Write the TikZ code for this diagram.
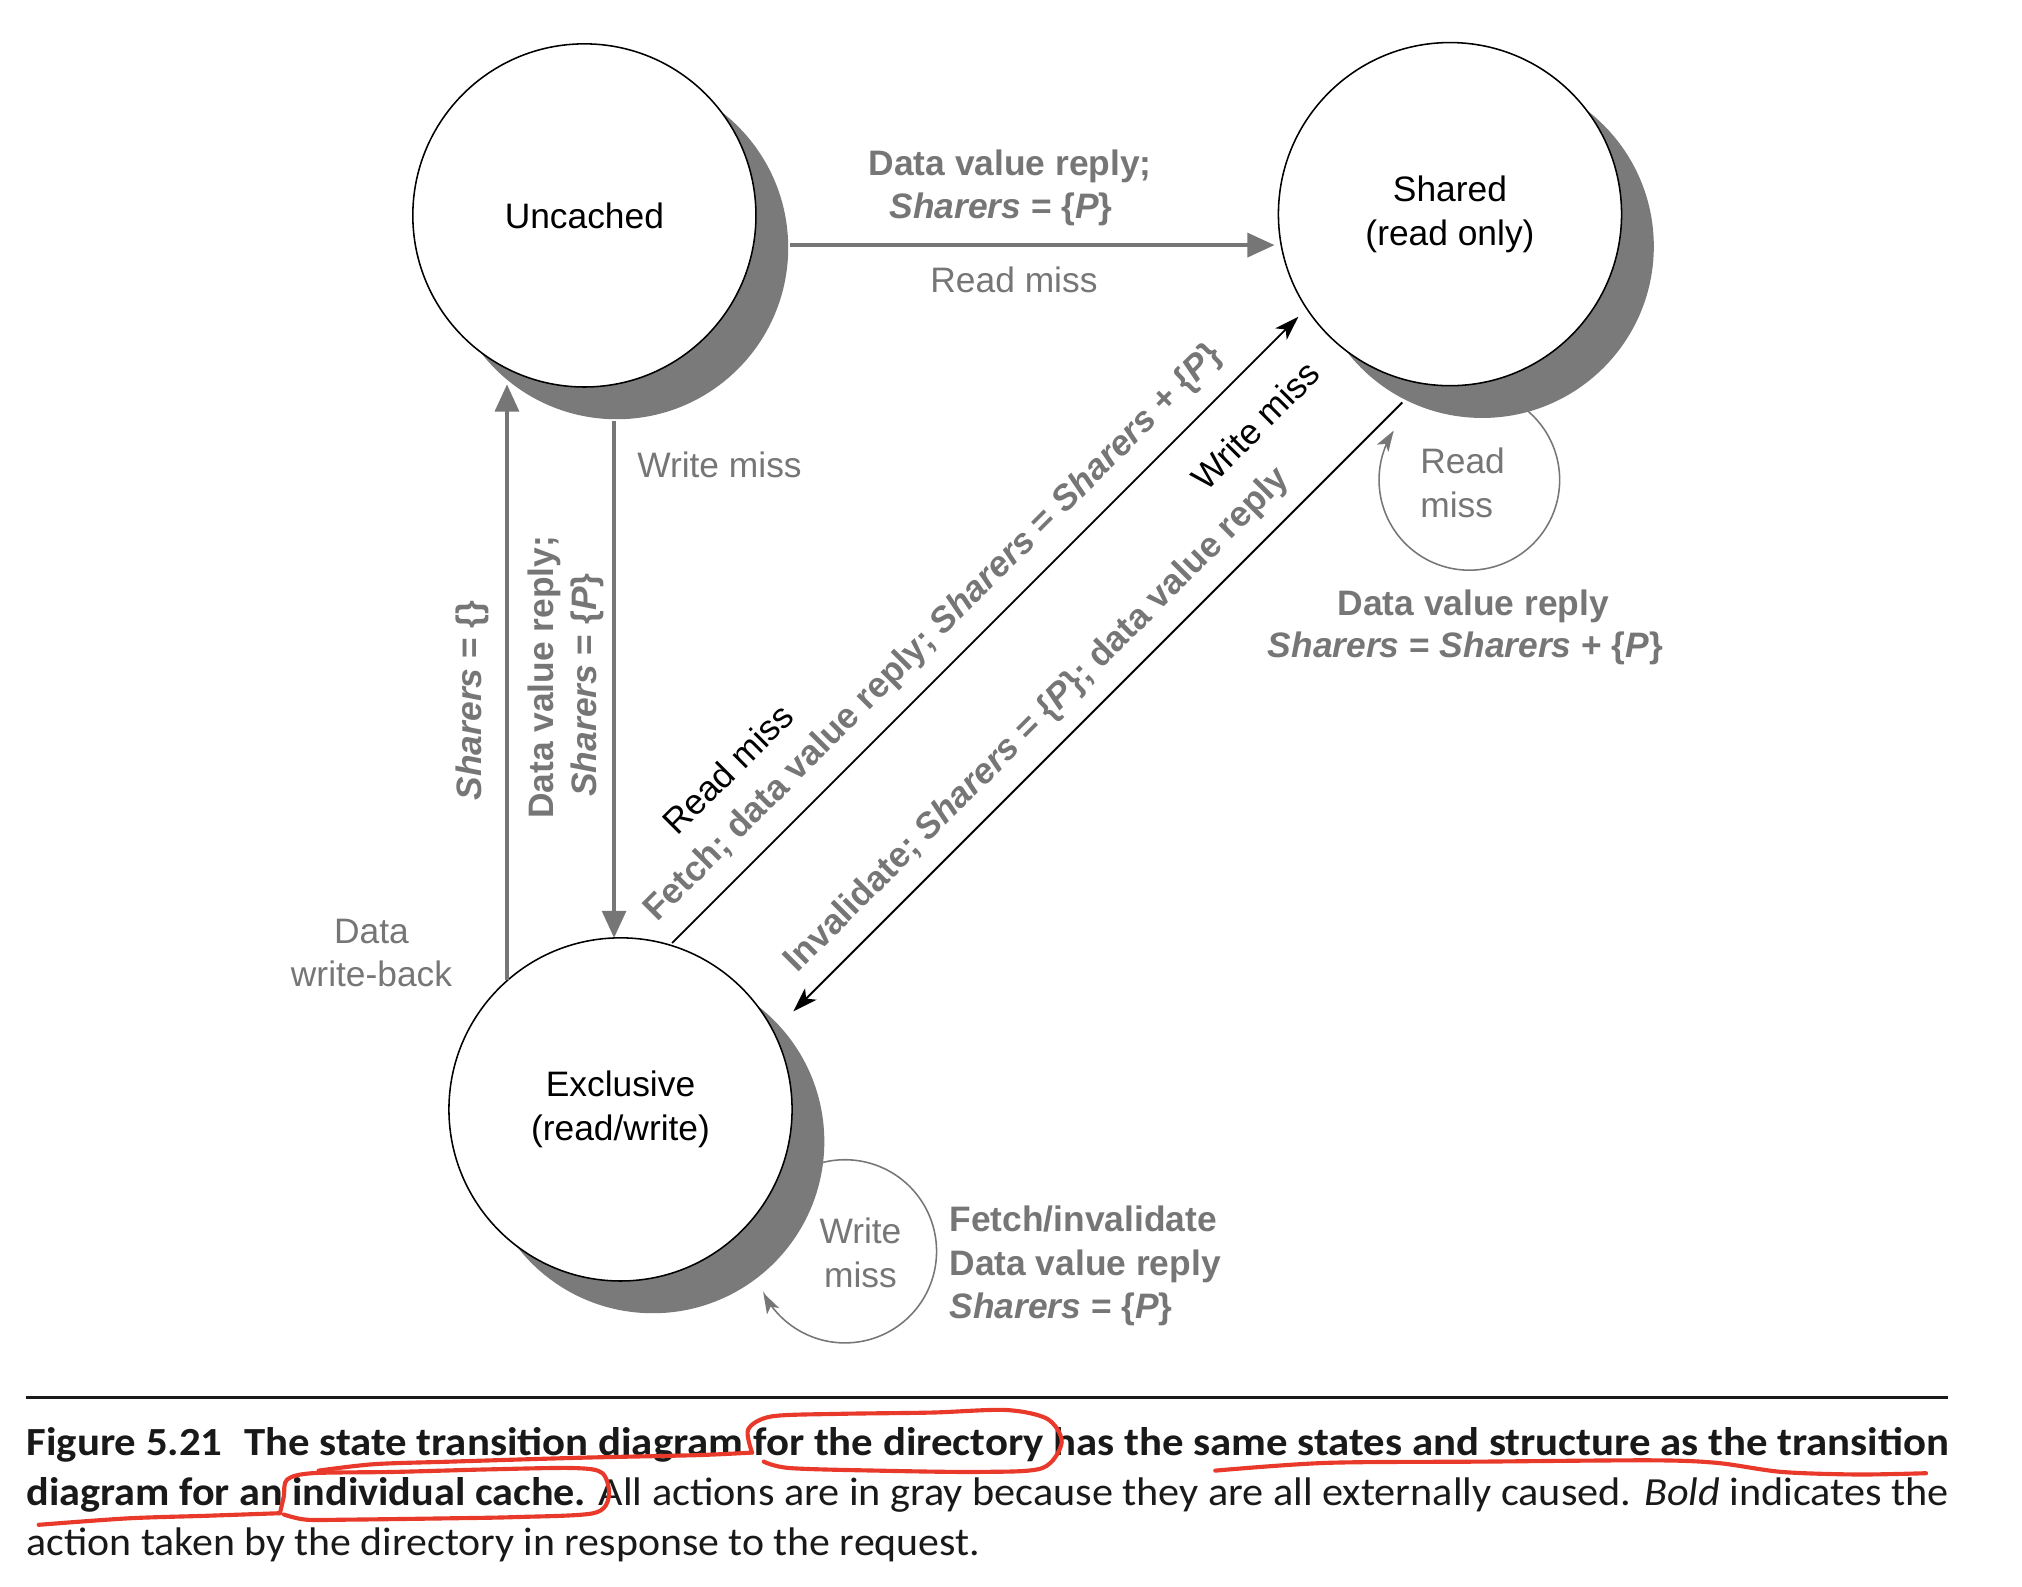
\documentclass[tikz,border=0pt]{standalone}
\usepackage{fontspec}
\setmainfont{Liberation Sans}
\newfontfamily\capfont{Carlito}
\usetikzlibrary{arrows.meta,calc}
\definecolor{txtgray}{RGB}{118,118,118}
\definecolor{shadegray}{RGB}{122,122,122}
\definecolor{penred}{RGB}{232,57,42}
\definecolor{capblack}{RGB}{25,25,25}
\newcommand\labfont{\fontsize{7.8}{9.6}\selectfont}
\begin{document}
\begin{tikzpicture}[x=0.1mm,y=-0.1mm,
  lab/.style={font=\labfont, inner sep=0, outer sep=0},
  graylab/.style={lab, text=txtgray},
  boldlab/.style={lab, text=txtgray, font=\labfont\bfseries},
  state/.style={circle, draw=black, line width=0.12mm, fill=white, minimum size=26.6mm,
    inner sep=0, align=center, font=\labfont},
  shade/.style={fill=shadegray},
  grayarrow/.style={draw=txtgray, line width=0.28mm, -{Triangle[length=2.1mm,width=1.85mm]}},
  blackarrow/.style={draw=black, line width=0.15mm, -{Stealth[length=1.9mm,width=1.25mm,inset=0.5mm]}},
  selfloop/.style={draw=txtgray, line width=0.12mm, -{Stealth[length=1.6mm,width=1.05mm,inset=0.4mm]}},
  redpen/.style={draw=penred, line width=0.32mm, line cap=round, line join=round},
]
\useasboundingbox (0,0) rectangle (1567.4,1229.5);
\fill[white] (0,0) rectangle (1567.4,1229.5);

% state centres
\coordinate (uc) at (453,167);
\coordinate (sc) at (1124,166);
\coordinate (ec) at (481,860);

% self loops (drawn first, partly hidden by shadows)
\draw[selfloop] plot[variable=\t, domain=-60:213, samples=90, smooth]
  ({1139+70*cos(\t)},{372+70*sin(\t)});
\draw[selfloop] plot[variable=\t, domain=-112:153, samples=90, smooth]
  ({655+71*cos(\t)},{970+71*sin(\t)});

% shadows
\fill[shade] ($(uc)+(25,25)$) circle[radius=13.3mm];
\fill[shade] ($(sc)+(25,25)$) circle[radius=13.3mm];
\fill[shade] ($(ec)+(25,25)$) circle[radius=13.3mm];

% states
\node[state] (unc) at (uc) {Uncached};
\node[state] (sha) at (sc) {Shared\\(read only)};
\node[state] (exc) at (ec) {Exclusive\\(read/write)};

% connectors
\draw[grayarrow] ($(unc.center)+(159,23)$) -- ($(sha.center)+(-136,24)$);
\draw[grayarrow] ($(unc.center)+(23,159)$) -- ($(exc.center)+(-5,-133)$);
\draw[grayarrow] ($(exc.center)+(-88,-100)$) -- ($(unc.center)+(-60,131)$);
\draw[blackarrow] ($(exc.center)+(40,-129)$) -- ($(sha.center)+(-117.5,79.5)$);
\draw[blackarrow] ($(sha.center)+(-37,146)$) -- ($(exc.center)+(134,-76)$);

% labels: top arrow
\node[boldlab, anchor=base] (t1) at (783,136) {Data value reply;};
\node[boldlab, anchor=base] (t2) at (776,169) {\textit{Sharers} = \{\textit{P}\}};
\node[graylab, anchor=base] (t3) at (786,227) {Read miss};

% labels: vertical arrows
\node[graylab, anchor=base west] (w1) at (494,370) {Write miss};
\node[boldlab, rotate=90, anchor=base] (v1) at (373,543) {\textit{Sharers} = \{\}};
\node[boldlab, rotate=90, anchor=base] (v2) at (429,525) {Data value reply;};
\node[boldlab, rotate=90, anchor=base] (v3) at (462.5,531) {\textit{Sharers} = \{\textit{P}\}};
\node[graylab, anchor=base] (d1) at (288,731) {Data};
\node[graylab, anchor=base] (d2) at (288,765) {write-back};

% labels: diagonal arrows
\node[lab, rotate=45, anchor=base] (r1) at (571,603) {Read miss};
\node[boldlab, rotate=45, anchor=base] (r2) at (729,496)
  {Fetch; data value reply; \textit{Sharers} = \textit{Sharers} + \{\textit{P}\}};
\node[lab, rotate=45, anchor=base] (r3) at (980,336.5) {Write miss};
\node[boldlab, rotate=45, anchor=base] (r4) at (809.5,563.5)
  {Invalidate; \textit{Sharers} = \{\textit{P}\}; data value reply};

% labels: shared self loop
\node[graylab, anchor=base west] (s1) at (1101,367) {Read};
\node[graylab, anchor=base west] (s2) at (1101,401) {miss};
\node[boldlab, anchor=base] (s3) at (1142,477) {Data value reply};
\node[boldlab, anchor=base] (s4) at (1136,510) {\textit{Sharers} = \textit{Sharers} + \{\textit{P}\}};

% labels: exclusive self loop
\node[graylab, anchor=base] (e1) at (667,964) {Write};
\node[graylab, anchor=base] (e2) at (667,998) {miss};
\node[boldlab, anchor=base west] (e3) at (736,955) {Fetch/invalidate};
\node[boldlab, anchor=base west] (e4) at (736,989) {Data value reply};
\node[boldlab, anchor=base west] (e5) at (736,1022) {\textit{Sharers} = \{\textit{P}\}};

% caption
\draw[line width=0.2mm, capblack] (20,1083.5) -- (1510,1083.5);
\node[anchor=base west, inner sep=0, text=capblack] (c1) at (20,1128)
  {\resizebox{149mm}{\height}{\capfont\fontsize{8.8}{10}\selectfont\bfseries Figure 5.21\enspace The state transition diagram for the directory has the same states and structure as the transition}};
\node[anchor=base west, inner sep=0, text=capblack] (c2) at (20,1166.7)
  {\resizebox{149mm}{\height}{\capfont\fontsize{8.8}{10}\selectfont\textbf{diagram for an individual cache.} All actions are in gray because they are all externally caused. \textit{Bold} indicates the}};
\node[anchor=base west, inner sep=0, text=capblack] (c3) at (20,1205.4)
  {\resizebox{73.9mm}{\height}{\capfont\fontsize{8.8}{10}\selectfont action taken by the directory in response to the request.}};

% red pen annotations
\draw[redpen] plot[smooth] coordinates {(247,1140) (290,1135) (350,1133) (450,1130) (540,1128) (583,1126)};
\draw[redpen] plot[smooth] coordinates {(583,1126) (580,1108) (598,1098) (650,1096) (722,1095) (780,1093) (812,1100) (823,1118) (808,1138) (760,1141) (680,1140) (612,1138) (592,1133)};
\draw[redpen] plot[smooth] coordinates {(942,1140) (1028,1134) (1150,1133) (1280,1132) (1331,1134) (1381,1141) (1440,1143) (1493,1142)};
\draw[redpen] plot[smooth] coordinates {(30,1182) (99,1177) (160,1175) (217,1173)};
\draw[redpen] plot[smooth] coordinates {(217,1173) (220,1160) (222.5,1147) (242,1142) (306,1141) (380,1139) (445,1138) (467,1142) (472,1160) (460,1173) (400,1176) (346,1177) (270,1178) (237,1178) (220,1174)};
\end{tikzpicture}
\end{document}
